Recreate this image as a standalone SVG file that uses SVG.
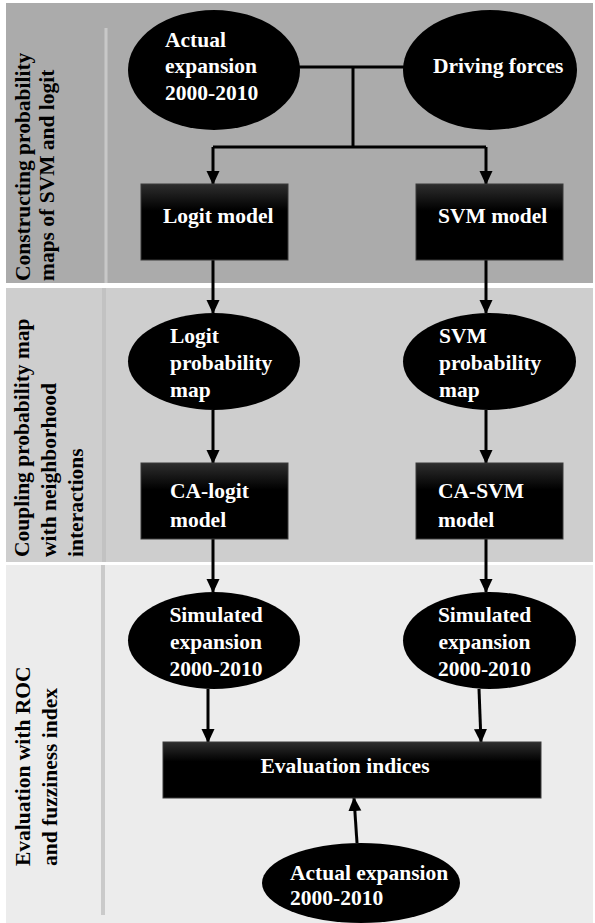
<svg xmlns="http://www.w3.org/2000/svg" width="595" height="923" viewBox="0 0 595 923">
<style>
.t{font-family:"Liberation Serif","Times New Roman",serif;font-weight:bold;font-size:21.5px;fill:#fff}
.l{font-family:"Liberation Serif","Times New Roman",serif;font-weight:bold;font-size:21.5px;fill:#000}
.c{fill:none;stroke:#000;stroke-width:3}
.e{fill:#000}
.b{fill:url(#bg);stroke:#3a3a3a;stroke-width:1}
</style>
<defs>
<linearGradient id="bg" x1="0" y1="0" x2="0" y2="1">
<stop offset="0" stop-color="#2e2e2e"/>
<stop offset="0.35" stop-color="#000"/>
<stop offset="1" stop-color="#000"/>
</linearGradient>
<marker id="ar" markerUnits="userSpaceOnUse" markerWidth="14" markerHeight="14" viewBox="0 0 14 14" refX="13" refY="7" orient="auto">
<path d="M0,0.5 L14,7 L0,13.5 Z" fill="#000"/>
</marker>
</defs>
<rect width="595" height="923" fill="#fff"/>
<g id="panels">
<rect x="6" y="3" width="587" height="280" fill="#ababab"/>
<rect x="6" y="288" width="587" height="274" fill="#cecece"/>
<rect x="6" y="565" width="587" height="358" fill="#ececec"/>
<line x1="106" y1="28" x2="106" y2="283" stroke="#c8c8c8" stroke-width="3"/>
<line x1="104" y1="288" x2="104" y2="562" stroke="#c2c2c2" stroke-width="4"/>
<line x1="103" y1="565" x2="103" y2="915" stroke="#cacaca" stroke-width="4"/>
</g>
<g id="labels">
<text class="l" transform="translate(30,281) rotate(-90)">Constructing probability</text>
<text class="l" transform="translate(54,281) rotate(-90)">maps of SVM and logit</text>
<text class="l" transform="translate(29,557) rotate(-90)">Coupling probability map</text>
<text class="l" transform="translate(56,557) rotate(-90)">with neighborhood</text>
<text class="l" transform="translate(83,557) rotate(-90)">interactions</text>
<text class="l" transform="translate(30,866) rotate(-90)">Evaluation with ROC</text>
<text class="l" transform="translate(57,866) rotate(-90)">and fuzziness index</text>
</g>
<g id="connectors">
<path class="c" d="M298,67 H405"/>
<path class="c" d="M353,67 V147"/>
<path class="c" d="M213,147 H486"/>
<path class="c" d="M213,147 V184" marker-end="url(#ar)"/>
<path class="c" d="M486,147 V184" marker-end="url(#ar)"/>
<path class="c" d="M213,260 V313" marker-end="url(#ar)"/>
<path class="c" d="M486,260 V313" marker-end="url(#ar)"/>
<path class="c" d="M213,410 V463" marker-end="url(#ar)"/>
<path class="c" d="M486,410 V463" marker-end="url(#ar)"/>
<path class="c" d="M213,539 V592" marker-end="url(#ar)"/>
<path class="c" d="M486,539 V592" marker-end="url(#ar)"/>
<path class="c" d="M208,689 V742" marker-end="url(#ar)"/>
<path class="c" d="M479,689 L481,742" marker-end="url(#ar)"/>
<path class="c" d="M357,843 L354,798" marker-end="url(#ar)"/>
</g>
<g id="actual-top">
<ellipse class="e" cx="214" cy="70" rx="86" ry="60"/>
<text class="t" x="165" y="47">Actual</text>
<text class="t" x="165" y="73">expansion</text>
<text class="t" x="165" y="100">2000-2010</text>
</g>
<g id="driving">
<ellipse class="e" cx="490" cy="70" rx="87" ry="60"/>
<text class="t" x="433" y="73">Driving forces</text>
</g>
<g id="logit-model">
<rect class="b" x="141" y="184" width="147" height="76"/>
<text class="t" x="163" y="223">Logit model</text>
</g>
<g id="svm-model">
<rect class="b" x="416" y="184" width="147" height="76"/>
<text class="t" x="438" y="223">SVM model</text>
</g>
<g id="logit-prob">
<ellipse class="e" cx="214" cy="361.5" rx="86" ry="48.5"/>
<text class="t" x="170" y="343">Logit</text>
<text class="t" x="170" y="370">probability</text>
<text class="t" x="170" y="397">map</text>
</g>
<g id="svm-prob">
<ellipse class="e" cx="489.5" cy="361.5" rx="86.5" ry="48.5"/>
<text class="t" x="439" y="343">SVM</text>
<text class="t" x="439" y="370">probability</text>
<text class="t" x="439" y="397">map</text>
</g>
<g id="ca-logit">
<rect class="b" x="141" y="463" width="147" height="76"/>
<text class="t" x="170" y="498">CA-logit</text>
<text class="t" x="170" y="527">model</text>
</g>
<g id="ca-svm">
<rect class="b" x="416" y="463" width="147" height="76"/>
<text class="t" x="438" y="498">CA-SVM</text>
<text class="t" x="438" y="527">model</text>
</g>
<g id="sim-logit">
<ellipse class="e" cx="214" cy="640.5" rx="86" ry="48.5"/>
<text class="t" x="216" y="622" text-anchor="middle">Simulated</text>
<text class="t" x="216" y="649" text-anchor="middle">expansion</text>
<text class="t" x="216" y="676" text-anchor="middle">2000-2010</text>
</g>
<g id="sim-svm">
<ellipse class="e" cx="489.5" cy="640.5" rx="86.5" ry="48.5"/>
<text class="t" x="484.5" y="622" text-anchor="middle">Simulated</text>
<text class="t" x="484.5" y="649" text-anchor="middle">expansion</text>
<text class="t" x="484.5" y="676" text-anchor="middle">2000-2010</text>
</g>
<g id="evaluation">
<rect class="b" x="163" y="742" width="378" height="56"/>
<text class="t" x="345" y="773" text-anchor="middle">Evaluation indices</text>
</g>
<g id="actual-bottom">
<ellipse class="e" cx="361" cy="883" rx="99" ry="40"/>
<text class="t" x="290" y="880">Actual expansion</text>
<text class="t" x="290" y="905">2000-2010</text>
</g>
</svg>
